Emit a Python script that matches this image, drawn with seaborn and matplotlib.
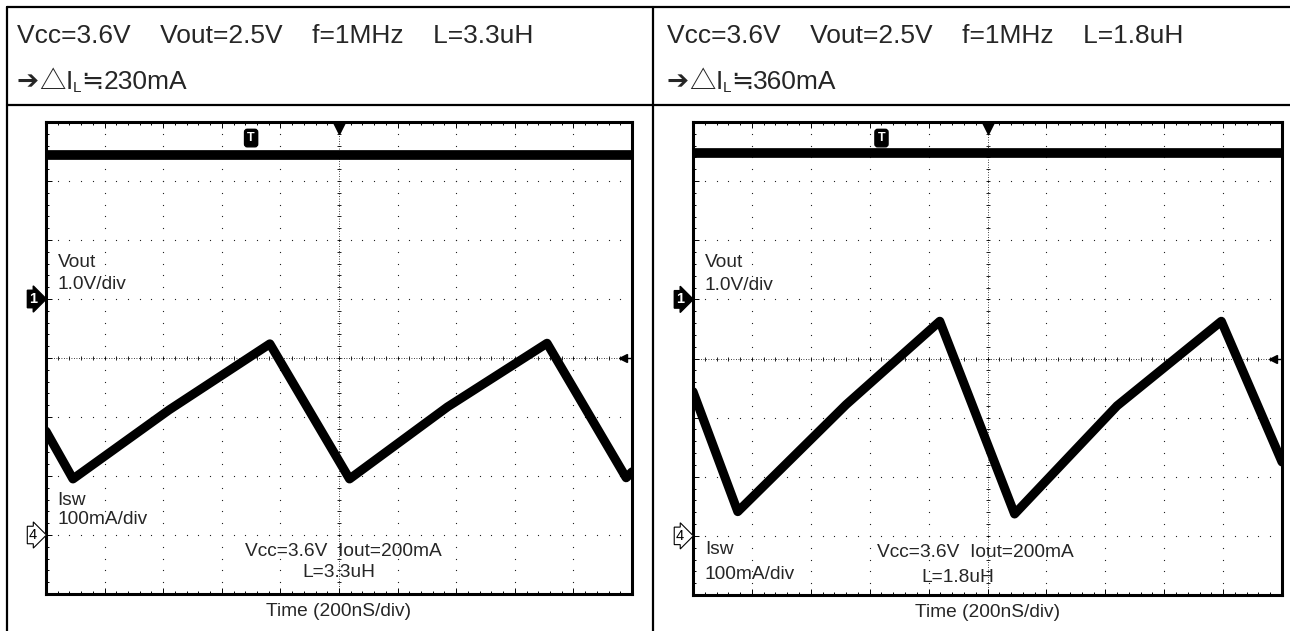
import matplotlib
matplotlib.use("Agg")
import matplotlib.pyplot as plt
import seaborn as sns
from matplotlib.lines import Line2D
from matplotlib.ticker import MultipleLocator

# ---- values read off the two scope captures ----
# time axis: 200 ns/div, 10 div across
# Isw: 100 mA/div, channel-4 ground at 1 div from bottom
# Vout: 1.0 V/div, channel-1 ground at 5 div from bottom
t_isw_33 = [0, 92, 420, 764, 1036, 1370, 1710, 1980, 2000]
isw_33 = [176, 95, 212, 324, 95, 217, 325, 97, 107]
t_isw_18 = [0, 152, 520, 838, 1092, 1440, 1794, 2000]
isw_18 = [244, 41, 222, 363, 37, 220, 363, 125]
t_vout = [0, 2000]
vout_33 = [2.44, 2.44]
vout_18 = [2.47, 2.47]

header_33 = "Vcc=3.6V    Vout=2.5V    f=1MHz    L=3.3uH"
header_18 = "Vcc=3.6V    Vout=2.5V    f=1MHz    L=1.8uH"
ripple_33 = "230mA"
ripple_18 = "360mA"
cond_33 = ["Vcc=3.6V  Iout=200mA", "L=3.3uH"]
cond_18 = ["Vcc=3.6V  Iout=200mA", "L=1.8uH"]

sns.set_theme(style="white")
MAIN = ["Liberation Sans", "DejaVu Sans", "Noto Sans CJK JP"]
CJK = ["Noto Sans CJK JP", "DejaVu Sans"]
plt.rcParams["font.family"] = MAIN

W, H = 1290, 631
fig = plt.figure(figsize=(W / 100, H / 100), dpi=100)
fig.patch.set_facecolor("white")


def fx(px):
    return px / W


def fy(py):
    return 1 - py / H


# table borders
for (x0, y0, x1, y1) in [(7, 7, 1290, 7), (7, 105, 1290, 105), (7, 7, 7, 631), (653, 7, 653, 631)]:
    fig.add_artist(Line2D([fx(x0), fx(x1)], [fy(y0), fy(y1)], color="black", lw=1.6))

LABEL_FS = 13.8


def draw_scope(rect, t_isw, isw, vout, cond, t_mark, label_y, cond_xy):
    ax = fig.add_axes(rect)
    ax.set_facecolor("white")
    ax.set_xlim(0, 2000)
    ax.set_ylim(-100, 700)

    # dotted graticule, one dot every 1/5 div
    dots_y = [-100 + 20 * k for k in range(41)]
    dots_x = [40 * k for k in range(51)]
    for xg in range(200, 2000, 200):
        if xg != 1000:
            ax.plot([xg] * len(dots_y), dots_y, ls="none", marker="s", ms=0.8, mew=0,
                    color="#222222", zorder=1)
    for yg in range(0, 700, 100):
        if yg != 300:
            ax.plot(dots_x, [yg] * len(dots_x), ls="none", marker="s", ms=0.8, mew=0,
                    color="#222222", zorder=1)
    # centre cross with fine ticks
    ax.axhline(300, color="black", lw=0.6, ls=(0, (1, 2)), zorder=1)
    ax.axvline(1000, color="black", lw=0.6, ls=(0, (1, 2)), zorder=1)
    ax.plot(dots_x, [300] * len(dots_x), ls="none", marker="|", ms=3.5, mew=0.6, color="black", zorder=1)
    ax.plot([1000] * len(dots_y), dots_y, ls="none", marker="_", ms=3.5, mew=0.6, color="black", zorder=1)

    ax.xaxis.set_major_locator(MultipleLocator(200))
    ax.xaxis.set_minor_locator(MultipleLocator(40))
    ax.yaxis.set_major_locator(MultipleLocator(100))
    ax.yaxis.set_minor_locator(MultipleLocator(20))
    ax.tick_params(which="both", direction="in", top=True, right=True, bottom=True, left=True,
                   labelbottom=False, labelleft=False, length=2.5, width=0.7, color="black")
    ax.tick_params(which="major", length=4)
    for s in ax.spines.values():
        s.set_visible(True)
        s.set_color("black")
        s.set_linewidth(2.2)
    ax.set_xlabel("")
    ax.set_ylabel("")

    # Isw trace
    sns.lineplot(x=t_isw, y=isw, ax=ax, color="black", lw=6.5, sort=False, zorder=5)
    ax.lines[-1].set_solid_joinstyle("round")

    # Vout trace on its own scale
    axv = ax.twinx()
    axv.set_ylim(-5, 3)
    axv.set_axis_off()
    sns.lineplot(x=t_vout, y=vout, ax=axv, color="black", lw=7, zorder=5)
    axv.set_xlim(0, 2000)

    # scope markers
    ax.plot(0.5, 0.988, marker="v", ms=8, color="black", transform=ax.transAxes, clip_on=False, zorder=6)
    ax.text(t_mark, 0.966, "T", transform=ax.get_xaxis_transform(), ha="center", va="center",
            color="white", fontsize=9, fontweight="bold",
            bbox=dict(boxstyle="round,pad=0.22", fc="black", ec="black"), zorder=7)
    ax.plot(0.985, 0.5, marker="<", ms=6, color="black", transform=ax.transAxes, clip_on=False, zorder=6)
    ax.plot([0.985, 1.0], [0.5, 0.5], color="black", lw=1, transform=ax.transAxes, zorder=6)
    ax.text(-0.022, 0.625, "1", transform=ax.transAxes, ha="center", va="center", color="white",
            fontsize=10.5, fontweight="bold", bbox=dict(boxstyle="rarrow,pad=0.12", fc="black", ec="black"))
    ax.text(-0.022, 0.125, "4", transform=ax.transAxes, ha="center", va="center", color="black",
            fontsize=10.5, bbox=dict(boxstyle="rarrow,pad=0.12", fc="white", ec="black", lw=0.8))

    # labels
    fs = LABEL_FS
    ax.text(0.02, 0.703, "Vout", transform=ax.transAxes, fontsize=fs, va="center")
    ax.text(0.02, 0.655, "1.0V/div", transform=ax.transAxes, fontsize=fs, va="center")
    ax.text(0.02, label_y[0], "Isw", transform=ax.transAxes, fontsize=fs, va="center")
    ax.text(0.02, label_y[1], "100mA/div", transform=ax.transAxes, fontsize=fs, va="center")
    ax.text(cond_xy[0], cond_xy[1], cond[0], transform=ax.transAxes, fontsize=fs, va="center", ha="center")
    ax.text(cond_xy[2], cond_xy[3], cond[1], transform=ax.transAxes, fontsize=fs, va="center", ha="center")
    ax.text(0.5, -0.038, "Time (200nS/div)", transform=ax.transAxes, fontsize=fs, va="center", ha="center")
    return ax


draw_scope([fx(46), fy(594), fx(586), 472 / H], t_isw_33, isw_33, vout_33, cond_33, 700,
           (0.199, 0.157), (0.507, 0.089, 0.5, 0.046))
draw_scope([fx(693), fy(595), fx(589), 473 / H], t_isw_18, isw_18, vout_18, cond_18, 640,
           (0.097, 0.044), (0.48, 0.089, 0.45, 0.038))

# header text
HEAD_FS = 19
renderer = fig.canvas.get_renderer()
for x0, line1, ripple in [(17, header_33, ripple_33), (667, header_18, ripple_18)]:
    fig.text(fx(x0), fy(43), line1, fontsize=HEAD_FS, va="baseline", ha="left")
    # second line built piece by piece: arrow, triangle, I with subscript L, ≒, value
    pieces = [("➔", HEAD_FS, MAIN, 0), ("△", HEAD_FS, CJK, 0), ("I", HEAD_FS, MAIN, 0),
              ("L", 11, MAIN, 3), ("≒", HEAD_FS, CJK, 0), (ripple, HEAD_FS, MAIN, 0)]
    x = x0
    for txt, size, fam, drop in pieces:
        t = fig.text(fx(x), fy(89 + drop), txt, fontsize=size, family=fam, va="baseline", ha="left")
        x += t.get_window_extent(renderer).width

fig.savefig("out.png", dpi=100, facecolor="white")
